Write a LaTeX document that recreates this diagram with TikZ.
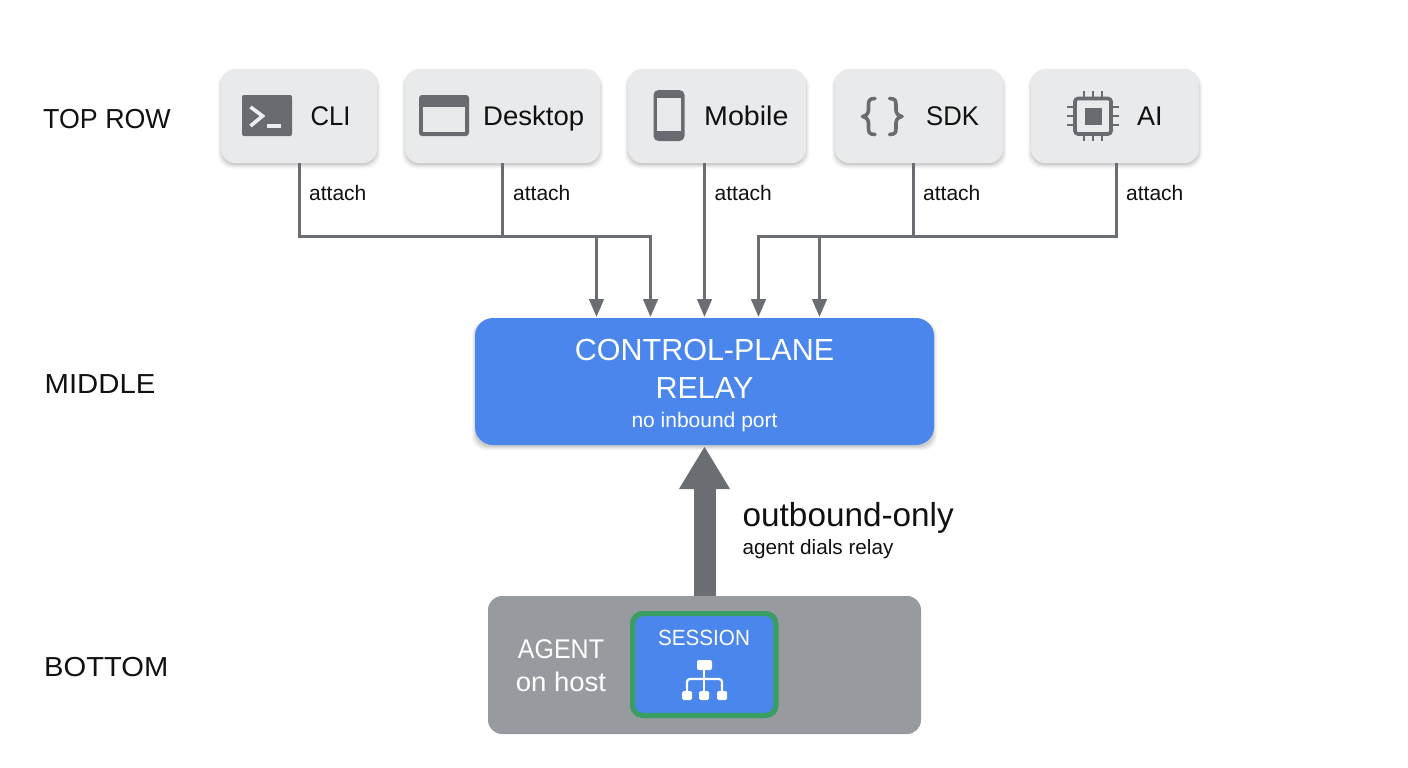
\documentclass[tikz,border=0pt]{standalone}
\usepackage{fontspec}
\setmainfont{Liberation Sans}
\usetikzlibrary{arrows.meta,calc}
\definecolor{cardfill}{HTML}{E9EAEC}
\definecolor{icongray}{HTML}{686B70}
\definecolor{linegray}{HTML}{6A6D72}
\definecolor{relayblue}{HTML}{4A86EC}
\definecolor{agentgray}{HTML}{979A9E}
\definecolor{sessiongreen}{HTML}{3A9E63}
\definecolor{inktext}{HTML}{111111}
\definecolor{promptlight}{HTML}{EDEEEF}
\newcommand{\fs}[1]{\fontsize{#1}{#1}\selectfont}
\newcommand{\hs}[2]{\scalebox{#1}[1]{#2}}
\tikzset{
  x=1pt,y=-1pt,
  card/.style={rounded corners=14pt,fill=cardfill,draw=none},
  cardlabel/.style={text=inktext,font=\fs{27},anchor=base west,inner sep=0pt},
  rowlabel/.style={text=inktext,font=\fs{27.5},anchor=base west,inner sep=0pt},
  attachlabel/.style={text=inktext,font=\fs{21},anchor=base west,inner sep=0pt},
  centerlabel/.style={text=white,anchor=base,inner sep=0pt},
  wire/.style={draw=linegray,line width=3pt},
  wirearrow/.style={wire,-{Triangle[width=14.5pt,length=18pt]}},
  iconline/.style={icongray,line width=2.8pt},
  braceline/.style={icongray,line width=3.6pt,line join=round,line cap=round},
  anchorbox/.style={inner sep=0pt},
}
\newcommand{\softbox}[5]{%
  \foreach \g/\o in {4.5/.025,3.5/.035,2.5/.045,1.5/.055,0.5/.06}{
    \fill[black,opacity=\o,rounded corners=14pt] (#2+1-\g,#3+3) rectangle (#4-1+\g,#5+1+\g);
  }
}
\begin{document}
\begin{tikzpicture}
\useasboundingbox (0,0) rectangle (1408,768);
\fill[white] (0,0) rectangle (1408,768);

% row labels
\node[rowlabel] (toprow) at (43,128) {\hs{0.975}{TOP ROW}};
\node[rowlabel] (middle) at (44.5,393) {\hs{1.065}{MIDDLE}};
\node[rowlabel] (bottom) at (44,676) {\hs{1.06}{BOTTOM}};

% shadows
\softbox{}{221}{69}{377}{163}
\softbox{}{405}{69}{600}{163}
\softbox{}{628}{69}{806}{163}
\softbox{}{835}{69}{1003}{163}
\softbox{}{1031}{69}{1199}{163}
\softbox{}{475}{318}{934}{445}

% cards
\path[card] (221,69) rectangle (377,163);
\node[anchorbox,minimum width=156pt,minimum height=94pt] (cli) at (299.5,116) {};
\path[card] (405,69) rectangle (600,163);
\node[anchorbox,minimum width=195pt,minimum height=94pt] (desktop) at (502.5,116) {};
\path[card] (628,69) rectangle (806,163);
\node[anchorbox,minimum width=178pt,minimum height=94pt] (mobile) at (717,116) {};
\path[card] (835,69) rectangle (1003,163);
\node[anchorbox,minimum width=168pt,minimum height=94pt] (sdk) at (919,116) {};
\path[card] (1031,69) rectangle (1199,163);
\node[anchorbox,minimum width=168pt,minimum height=94pt] (ai) at (1116.5,116) {};

\node[cardlabel] (clit) at (310.5,125.5) {\hs{0.95}{CLI}};
\node[cardlabel] (deskt) at (483,125.5) {\hs{1.02}{Desktop}};
\node[cardlabel] (mobt) at (704,125.5) {\hs{1.06}{Mobile}};
\node[cardlabel] (sdkt) at (926,125.5) {\hs{0.95}{SDK}};
\node[cardlabel] (ait) at (1137,125.5) {AI};

% CLI icon
\fill[icongray,rounded corners=2pt] (242,95) rectangle (292,136);
\draw[promptlight,line width=3.6pt] (250.5,107) -- (262.5,116) -- (250.5,126);
\draw[promptlight,line width=3.6pt] (267,126) -- (281,126);
% Desktop icon
\fill[icongray,rounded corners=3pt] (419,95) rectangle (469,136);
\fill[cardfill] (423,107) rectangle (465,132);
% Mobile icon
\fill[icongray,rounded corners=5pt] (653.5,90) rectangle (684.5,141);
\fill[cardfill] (657,98) rectangle (681,130.5);
% SDK icon
\draw[braceline] (875,98.5) .. controls (869,98.5) and (868.5,101) .. (868.5,105) -- (868.5,110) .. controls (868.5,113.5) and (866,116) .. (862.5,116.5) .. controls (866,117) and (868.5,119.5) .. (868.5,123) -- (868.5,128) .. controls (868.5,132) and (869,134.5) .. (875,134.5);
\draw[braceline] (889.5,98.5) .. controls (895.5,98.5) and (896,101) .. (896,105) -- (896,110) .. controls (896,113.5) and (898.5,116) .. (902,116.5) .. controls (898.5,117) and (896,119.5) .. (896,123) -- (896,128) .. controls (896,132) and (895.5,134.5) .. (889.5,134.5);
% AI icon
\draw[iconline,line width=3.6pt,rounded corners=3pt] (1075,98.5) rectangle (1111,134);
\fill[icongray] (1084.5,107.5) rectangle (1101.5,125);
\foreach \px in {1084,1093,1102}{
  \draw[iconline] (\px,91) -- (\px,98);
  \draw[iconline] (\px,134) -- (\px,141);
}
\foreach \py in {107,116,125}{
  \draw[iconline] (1067,\py) -- (1075,\py);
  \draw[iconline] (1111,\py) -- (1119,\py);
}

% relay
\path[fill=relayblue,rounded corners=18pt] (475,318) rectangle (934,445);
\node[anchorbox,minimum width=459pt,minimum height=127pt] (relay) at (704.5,381.5) {};
\node[centerlabel,font=\fs{30.5}] (relayt1) at (704.5,360) {CONTROL-PLANE};
\node[centerlabel,font=\fs{30.5}] (relayt2) at (704.5,398) {RELAY};
\node[centerlabel,font=\fs{21}] (relayt3) at (704.5,427.5) {no inbound port};

% agent
\path[fill=agentgray,rounded corners=14pt] (488,596) rectangle (921,734);
\node[anchorbox,minimum width=433pt,minimum height=138pt] (agent) at (704.5,665) {};
\node[centerlabel,font=\fs{27}] (agentt1) at (561,658) {\hs{0.925}{AGENT}};
\node[centerlabel,font=\fs{27}] (agentt2) at (561,691) {\hs{1.02}{on host}};

% session
\path[fill=relayblue,draw=sessiongreen,line width=5.2pt,rounded corners=10pt] (632.6,613.6) rectangle (775.9,715.4);
\node[anchorbox,minimum width=147pt,minimum height=107pt] (session) at (704.5,664.5) {};
\node[centerlabel,font=\fs{22}] (sessiont) at (704,645) {\hs{0.94}{SESSION}};
% hierarchy icon
\fill[white,rounded corners=2pt] (697,660) rectangle (712,670);
\fill[white,rounded corners=1.5pt] (682,691) rectangle (692,700);
\fill[white,rounded corners=1.5pt] (699,691) rectangle (709,700);
\fill[white,rounded corners=1.5pt] (717,691) rectangle (727,700);
\draw[white,line width=2.2pt] (704,670) -- (704,691);
\draw[white,line width=2.2pt,rounded corners=3pt] (687,691) -- (687,679) -- (722,679) -- (722,691);

% connector coordinates
\coordinate (in1) at (596.5,317);
\coordinate (in2) at (650.5,317);
\coordinate (in3) at (704.5,317);
\coordinate (in4) at (758.5,317);
\coordinate (in5) at (819.5,317);
\coordinate (sdkdrop) at (913.5,163);
\coordinate (mobdrop) at (704.5,163);

% connectors
\draw[wirearrow] (cli.south) |- (596.5,236.5) -- (in1);
\draw[wirearrow] (desktop.south) -- ++(0,73.5) -| (in2);
\draw[wirearrow] (mobdrop) -- (in3);
\draw[wirearrow] (sdkdrop) |- (in5 |- 0,236.5) -- (in5);
\draw[wirearrow] (ai.south) |- (758.5,236.5) -- (in4);

\node[attachlabel] (a1) at (309,200.5) {attach};
\node[attachlabel] (a2) at (513,200.5) {attach};
\node[attachlabel] (a3) at (714.5,200.5) {attach};
\node[attachlabel] (a4) at (923,200.5) {attach};
\node[attachlabel] (a5) at (1126,200.5) {attach};

% big arrow
\draw[draw=linegray,line width=22pt,-{Triangle[width=48pt,length=43pt]}] (agent.north -| relay.south) -- ([yshift=-1pt]relay.south);
\node[text=inktext,font=\fs{33.3},anchor=base west,inner sep=0pt] (out1) at (742.5,526) {outbound-only};
\node[text=inktext,font=\fs{20.7},anchor=base west,inner sep=0pt] (out2) at (742.5,554) {agent dials relay};
\end{tikzpicture}
\end{document}
